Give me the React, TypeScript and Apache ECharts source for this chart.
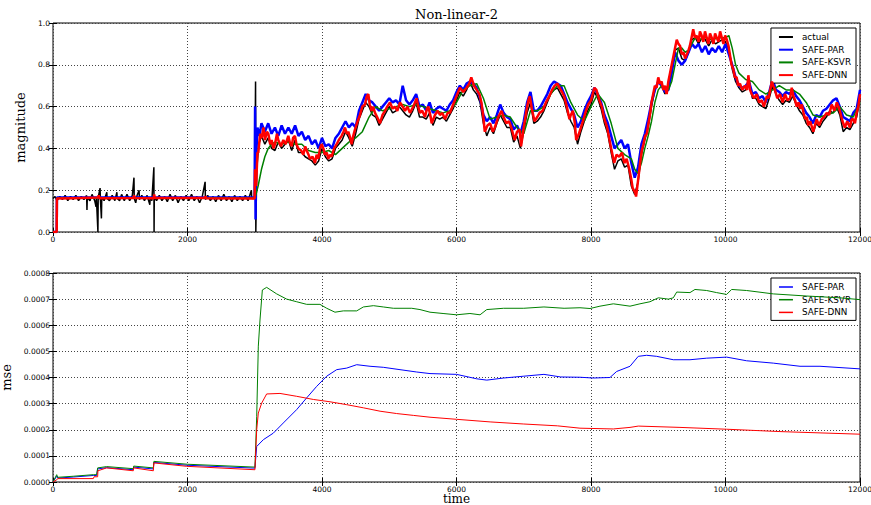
import React, { useEffect, useRef } from "react";
import * as echarts from "echarts";

// ---------- axes ----------
const X_MIN = 0;
const X_MAX = 12000;
const X_STEP = 2000;
const MAG_MIN = 0;
const MAG_MAX = 1.0;
const MAG_STEP = 0.2;
const MSE_MIN = 0;
const MSE_MAX = 0.0008;
const MSE_STEP = 0.0001;

const TITLE = "Non-linear-2";
const X_NAME = "time";
const TOP_NAMES = ["actual", "SAFE-PAR", "SAFE-KSVR", "SAFE-DNN"];
const BOTTOM_NAMES = ["SAFE-PAR", "SAFE-KSVR", "SAFE-DNN"];

// ---------- top panel: magnitude ----------
const actualMag: number[][] = [
  [0, 0.16], [30, 0.17], [60, 0.15], [100, 0.17], [140, 0.155], [180, 0.175], [220, 0.15], [260, 0.17],
  [300, 0.155], [340, 0.175], [380, 0.15], [420, 0.17], [460, 0.155], [500, 0.175], [505, 0.105], [510, 0.165],
  [550, 0.15], [580, 0.18], [620, 0.15], [640, 0.12], [645, 0.165], [668, 0.0], [672, 0.165], [700, 0.21],
  [705, 0.155], [720, 0.065], [725, 0.165], [760, 0.15], [800, 0.19], [805, 0.16], [840, 0.15], [880, 0.175],
  [920, 0.15], [950, 0.19], [955, 0.16], [990, 0.15], [1020, 0.18], [1060, 0.15], [1100, 0.18], [1140, 0.15],
  [1180, 0.175], [1204, 0.26], [1208, 0.16], [1230, 0.14], [1250, 0.175], [1280, 0.2], [1285, 0.155],
  [1320, 0.175], [1360, 0.15], [1400, 0.175], [1440, 0.13], [1445, 0.165], [1470, 0.15], [1500, 0.31],
  [1503, 0.0], [1506, 0.165], [1540, 0.15], [1580, 0.175], [1620, 0.15], [1660, 0.17], [1700, 0.145],
  [1740, 0.18], [1780, 0.15], [1820, 0.175], [1860, 0.14], [1900, 0.17], [1940, 0.15], [1980, 0.175],
  [2020, 0.15], [2060, 0.18], [2100, 0.15], [2140, 0.17], [2180, 0.14], [2220, 0.17], [2262, 0.24],
  [2266, 0.155], [2300, 0.175], [2340, 0.15], [2380, 0.17], [2420, 0.145], [2460, 0.175], [2500, 0.15],
  [2540, 0.18], [2580, 0.15], [2620, 0.17], [2660, 0.145], [2700, 0.175], [2740, 0.15], [2780, 0.17],
  [2820, 0.15], [2860, 0.175], [2900, 0.15], [2950, 0.2], [2955, 0.16], [2998, 0.16], [3012, 0.72],
  [3016, 0.0], [3030, 0.3], [3060, 0.42], [3100, 0.46], [3150, 0.42], [3200, 0.45], [3250, 0.4],
  [3300, 0.39], [3350, 0.43], [3400, 0.4], [3450, 0.42], [3500, 0.44], [3550, 0.39], [3600, 0.44],
  [3650, 0.38], [3700, 0.38], [3750, 0.36], [3800, 0.35], [3850, 0.34], [3900, 0.32], [3950, 0.34],
  [4000, 0.4], [4050, 0.36], [4100, 0.34], [4150, 0.35], [4200, 0.4], [4250, 0.42], [4300, 0.44],
  [4350, 0.48], [4400, 0.45], [4450, 0.41], [4500, 0.47], [4550, 0.54], [4600, 0.58], [4650, 0.62],
  [4700, 0.6], [4750, 0.56], [4800, 0.55], [4850, 0.51], [4900, 0.54], [4950, 0.57], [5000, 0.6],
  [5050, 0.57], [5100, 0.58], [5150, 0.6], [5200, 0.58], [5250, 0.56], [5300, 0.55], [5350, 0.58],
  [5400, 0.62], [5450, 0.55], [5500, 0.55], [5550, 0.54], [5600, 0.57], [5650, 0.51], [5700, 0.55],
  [5750, 0.54], [5800, 0.55], [5850, 0.53], [5900, 0.56], [5950, 0.59], [6000, 0.63], [6050, 0.67],
  [6100, 0.65], [6150, 0.68], [6200, 0.72], [6250, 0.68], [6300, 0.66], [6350, 0.62], [6400, 0.52],
  [6450, 0.46], [6500, 0.5], [6550, 0.47], [6600, 0.52], [6650, 0.56], [6700, 0.53], [6750, 0.5],
  [6800, 0.5], [6850, 0.43], [6900, 0.46], [6950, 0.4], [7000, 0.48], [7050, 0.57], [7100, 0.62],
  [7150, 0.52], [7200, 0.53], [7250, 0.55], [7300, 0.58], [7350, 0.62], [7400, 0.66], [7450, 0.68],
  [7500, 0.69], [7550, 0.66], [7600, 0.63], [7650, 0.57], [7700, 0.53], [7750, 0.5], [7800, 0.42],
  [7850, 0.48], [7900, 0.53], [7950, 0.58], [8000, 0.61], [8050, 0.67], [8100, 0.64], [8150, 0.59],
  [8200, 0.52], [8250, 0.47], [8300, 0.38], [8350, 0.3], [8400, 0.34], [8450, 0.35], [8500, 0.31],
  [8550, 0.32], [8600, 0.22], [8650, 0.18], [8700, 0.24], [8750, 0.37], [8800, 0.44], [8850, 0.5],
  [8900, 0.6], [8950, 0.68], [9000, 0.72], [9050, 0.7], [9100, 0.66], [9150, 0.7], [9200, 0.78],
  [9250, 0.87], [9300, 0.88], [9350, 0.83], [9400, 0.82], [9450, 0.86], [9500, 0.92], [9550, 0.93],
  [9600, 0.9], [9650, 0.93], [9700, 0.92], [9750, 0.89], [9800, 0.92], [9850, 0.9], [9900, 0.91],
  [9950, 0.92], [10000, 0.91], [10050, 0.87], [10100, 0.78], [10150, 0.72], [10200, 0.69], [10250, 0.67],
  [10300, 0.68], [10350, 0.72], [10400, 0.64], [10450, 0.64], [10500, 0.61], [10550, 0.6], [10600, 0.59],
  [10650, 0.64], [10700, 0.7], [10750, 0.66], [10800, 0.63], [10850, 0.61], [10900, 0.63], [10950, 0.62],
  [11000, 0.65], [11050, 0.61], [11100, 0.58], [11150, 0.56], [11200, 0.52], [11250, 0.5], [11300, 0.47],
  [11350, 0.52], [11400, 0.5], [11450, 0.53], [11500, 0.55], [11550, 0.58], [11600, 0.57], [11650, 0.6],
  [11700, 0.56], [11750, 0.48], [11800, 0.5], [11850, 0.49], [11900, 0.52], [11950, 0.55], [12000, 0.64],
];

const parMag: number[][] = [
  [0, 0], [55, 0], [58, 0.165], [2998, 0.165], [3005, 0.6], [3012, 0.06], [3020, 0.35], [3040, 0.5],
  [3070, 0.46], [3100, 0.52], [3150, 0.48], [3200, 0.52], [3250, 0.47], [3300, 0.5], [3350, 0.46],
  [3400, 0.51], [3450, 0.47], [3500, 0.5], [3550, 0.47], [3600, 0.51], [3650, 0.46], [3700, 0.48],
  [3750, 0.44], [3800, 0.46], [3850, 0.42], [3900, 0.44], [3950, 0.4], [4000, 0.45], [4050, 0.41],
  [4100, 0.42], [4150, 0.4], [4200, 0.45], [4250, 0.47], [4300, 0.5], [4350, 0.53], [4400, 0.5],
  [4450, 0.52], [4500, 0.5], [4550, 0.58], [4600, 0.62], [4650, 0.66], [4700, 0.63], [4750, 0.62],
  [4800, 0.6], [4850, 0.58], [4900, 0.6], [4950, 0.62], [5000, 0.64], [5050, 0.62], [5100, 0.63],
  [5150, 0.61], [5200, 0.7], [5250, 0.63], [5300, 0.61], [5350, 0.63], [5400, 0.66], [5450, 0.6],
  [5500, 0.61], [5550, 0.58], [5600, 0.62], [5650, 0.57], [5700, 0.59], [5750, 0.6], [5800, 0.59],
  [5850, 0.58], [5900, 0.61], [5950, 0.63], [6000, 0.67], [6050, 0.7], [6100, 0.68], [6150, 0.71],
  [6200, 0.72], [6250, 0.71], [6300, 0.69], [6350, 0.64], [6400, 0.56], [6450, 0.53], [6500, 0.55],
  [6550, 0.52], [6600, 0.56], [6650, 0.61], [6700, 0.57], [6750, 0.55], [6800, 0.54], [6850, 0.49],
  [6900, 0.51], [6950, 0.47], [7000, 0.53], [7050, 0.62], [7100, 0.67], [7150, 0.58], [7200, 0.58],
  [7250, 0.6], [7300, 0.63], [7350, 0.66], [7400, 0.7], [7450, 0.72], [7500, 0.71], [7550, 0.7],
  [7600, 0.66], [7650, 0.62], [7700, 0.59], [7750, 0.56], [7800, 0.5], [7850, 0.53], [7900, 0.58],
  [7950, 0.62], [8000, 0.65], [8050, 0.69], [8100, 0.66], [8150, 0.62], [8200, 0.56], [8250, 0.52],
  [8300, 0.46], [8350, 0.4], [8400, 0.42], [8450, 0.44], [8500, 0.4], [8550, 0.42], [8600, 0.33],
  [8650, 0.26], [8700, 0.31], [8750, 0.42], [8800, 0.47], [8850, 0.54], [8900, 0.62], [8950, 0.68],
  [9000, 0.72], [9050, 0.7], [9100, 0.67], [9150, 0.68], [9200, 0.76], [9250, 0.86], [9300, 0.82],
  [9350, 0.8], [9400, 0.82], [9450, 0.86], [9500, 0.9], [9550, 0.88], [9600, 0.9], [9650, 0.86],
  [9700, 0.89], [9750, 0.85], [9800, 0.88], [9850, 0.86], [9900, 0.89], [9950, 0.86], [10000, 0.9],
  [10050, 0.85], [10100, 0.8], [10150, 0.74], [10200, 0.7], [10250, 0.69], [10300, 0.7], [10350, 0.72],
  [10400, 0.66], [10450, 0.67], [10500, 0.64], [10550, 0.65], [10600, 0.62], [10650, 0.67], [10700, 0.73],
  [10750, 0.68], [10800, 0.67], [10850, 0.65], [10900, 0.67], [10950, 0.66], [11000, 0.68], [11050, 0.65],
  [11100, 0.63], [11150, 0.6], [11200, 0.57], [11250, 0.55], [11300, 0.52], [11350, 0.56], [11400, 0.55],
  [11450, 0.58], [11500, 0.59], [11550, 0.61], [11600, 0.63], [11650, 0.64], [11700, 0.6], [11750, 0.55],
  [11800, 0.54], [11850, 0.53], [11900, 0.57], [11950, 0.59], [12000, 0.68],
];

const ksvrMag: number[][] = [
  [0, 0], [55, 0], [58, 0.163], [2998, 0.163], [3010, 0.17], [3050, 0.22], [3100, 0.3], [3150, 0.36],
  [3200, 0.4], [3250, 0.42], [3300, 0.43], [3400, 0.42], [3500, 0.43], [3600, 0.42], [3700, 0.42],
  [3800, 0.39], [3900, 0.38], [4000, 0.38], [4100, 0.39], [4200, 0.37], [4300, 0.4], [4400, 0.43],
  [4500, 0.45], [4600, 0.48], [4700, 0.55], [4800, 0.6], [4900, 0.58], [5000, 0.59], [5100, 0.6],
  [5200, 0.61], [5300, 0.6], [5400, 0.61], [5500, 0.6], [5600, 0.59], [5700, 0.58], [5800, 0.57],
  [5900, 0.58], [6000, 0.62], [6100, 0.68], [6200, 0.7], [6300, 0.71], [6400, 0.64], [6500, 0.54],
  [6600, 0.55], [6700, 0.56], [6800, 0.55], [6900, 0.5], [7000, 0.47], [7100, 0.58], [7200, 0.58],
  [7300, 0.6], [7400, 0.66], [7500, 0.7], [7600, 0.7], [7700, 0.62], [7800, 0.56], [7900, 0.53],
  [8000, 0.6], [8100, 0.66], [8200, 0.62], [8300, 0.52], [8400, 0.4], [8500, 0.37], [8600, 0.35],
  [8650, 0.3], [8700, 0.28], [8750, 0.33], [8800, 0.4], [8850, 0.46], [8900, 0.53], [8950, 0.62],
  [9000, 0.68], [9050, 0.7], [9100, 0.69], [9150, 0.68], [9200, 0.72], [9250, 0.8], [9300, 0.88],
  [9350, 0.88], [9400, 0.86], [9450, 0.87], [9500, 0.9], [9550, 0.93], [9600, 0.92], [9700, 0.93],
  [9800, 0.92], [9900, 0.93], [10000, 0.93], [10050, 0.94], [10100, 0.88], [10150, 0.8], [10200, 0.76],
  [10300, 0.73], [10400, 0.72], [10500, 0.68], [10600, 0.66], [10700, 0.68], [10800, 0.7], [10900, 0.68],
  [11000, 0.68], [11100, 0.66], [11200, 0.62], [11300, 0.56], [11400, 0.55], [11500, 0.56], [11600, 0.57],
  [11700, 0.6], [11800, 0.56], [11900, 0.55], [12000, 0.62],
];

const dnnMag: number[][] = [
  [0, 0], [55, 0], [58, 0.16], [300, 0.162], [668, 0.165], [680, 0.175], [690, 0.162], [1200, 0.163],
  [1205, 0.175], [1215, 0.163], [1500, 0.162], [1505, 0.18], [1515, 0.163], [2262, 0.163], [2266, 0.172],
  [2275, 0.162], [2998, 0.16], [3005, 0.3], [3020, 0.22], [3040, 0.38], [3053, 0.38], [3080, 0.47],
  [3103, 0.45], [3130, 0.5], [3152, 0.44], [3180, 0.48], [3202, 0.47], [3230, 0.42], [3251, 0.44],
  [3280, 0.4], [3301, 0.42], [3330, 0.47], [3350, 0.44], [3390, 0.41], [3425, 0.44], [3460, 0.42],
  [3499, 0.46], [3520, 0.43], [3549, 0.41], [3570, 0.45], [3598, 0.46], [3620, 0.42], [3648, 0.4],
  [3690, 0.39], [3722, 0.37], [3750, 0.41], [3772, 0.39], [3800, 0.37], [3821, 0.35], [3860, 0.36],
  [3896, 0.33], [3920, 0.37], [3945, 0.35], [3970, 0.4], [3995, 0.42], [4020, 0.4], [4044, 0.37],
  [4070, 0.38], [4094, 0.35], [4120, 0.37], [4143, 0.36], [4180, 0.4], [4218, 0.42], [4250, 0.44],
  [4292, 0.46], [4320, 0.48], [4342, 0.5], [4370, 0.47], [4391, 0.48], [4420, 0.45], [4441, 0.42],
  [4465, 0.46], [4490, 0.49], [4530, 0.53], [4565, 0.56], [4600, 0.6], [4639, 0.61], [4665, 0.65],
  [4689, 0.66], [4710, 0.61], [4738, 0.58], [4760, 0.6], [4788, 0.57], [4820, 0.55], [4862, 0.52],
  [4900, 0.56], [4937, 0.58], [4970, 0.6], [5011, 0.62], [5050, 0.59], [5085, 0.6], [5120, 0.58],
  [5160, 0.62], [5200, 0.6], [5234, 0.58], [5270, 0.6], [5308, 0.57], [5358, 0.6], [5408, 0.64],
  [5430, 0.6], [5457, 0.57], [5490, 0.58], [5532, 0.55], [5560, 0.59], [5581, 0.6], [5610, 0.56],
  [5631, 0.52], [5680, 0.56], [5720, 0.58], [5755, 0.56], [5790, 0.57], [5829, 0.54], [5870, 0.57],
  [5903, 0.57], [5950, 0.61], [6000, 0.65], [6050, 0.69], [6100, 0.67], [6150, 0.69], [6190, 0.71],
  [6220, 0.74], [6260, 0.7], [6300, 0.68], [6340, 0.66], [6370, 0.62], [6400, 0.55], [6420, 0.48],
  [6460, 0.51], [6500, 0.52], [6540, 0.48], [6570, 0.5], [6620, 0.55], [6670, 0.58], [6700, 0.55],
  [6740, 0.52], [6780, 0.53], [6815, 0.5], [6840, 0.47], [6865, 0.44], [6900, 0.48], [6940, 0.49],
  [6960, 0.41], [7000, 0.5], [7040, 0.58], [7070, 0.63], [7090, 0.65], [7120, 0.59], [7160, 0.53],
  [7200, 0.55], [7235, 0.57], [7280, 0.58], [7330, 0.62], [7380, 0.65], [7420, 0.68], [7460, 0.7],
  [7500, 0.71], [7530, 0.69], [7570, 0.67], [7600, 0.65], [7640, 0.6], [7680, 0.54], [7700, 0.56],
  [7730, 0.58], [7760, 0.52], [7780, 0.44], [7820, 0.47], [7850, 0.5], [7890, 0.54], [7925, 0.58],
  [7960, 0.61], [8000, 0.63], [8050, 0.69], [8080, 0.68], [8125, 0.63], [8160, 0.6], [8200, 0.54],
  [8240, 0.5], [8270, 0.45], [8300, 0.4], [8345, 0.33], [8380, 0.37], [8420, 0.36], [8460, 0.38],
  [8495, 0.33], [8530, 0.35], [8570, 0.3], [8600, 0.25], [8620, 0.21], [8655, 0.19], [8670, 0.17],
  [8705, 0.26], [8730, 0.33], [8755, 0.39], [8780, 0.42], [8805, 0.46], [8830, 0.47], [8855, 0.52],
  [8880, 0.57], [8900, 0.62], [8925, 0.66], [8950, 0.7], [8975, 0.69], [9000, 0.74], [9025, 0.71],
  [9050, 0.72], [9075, 0.68], [9100, 0.7], [9125, 0.66], [9150, 0.72], [9175, 0.76], [9200, 0.8],
  [9225, 0.84], [9250, 0.88], [9275, 0.92], [9300, 0.9], [9325, 0.89], [9350, 0.85], [9375, 0.86],
  [9400, 0.83], [9425, 0.85], [9450, 0.87], [9470, 0.89], [9495, 0.93], [9520, 0.97], [9545, 0.93],
  [9570, 0.94], [9600, 0.91], [9620, 0.96], [9645, 0.94], [9670, 0.91], [9695, 0.96], [9720, 0.93],
  [9745, 0.9], [9770, 0.95], [9795, 0.93], [9820, 0.9], [9845, 0.95], [9870, 0.93], [9895, 0.91],
  [9920, 0.96], [9945, 0.93], [9970, 0.9], [9995, 0.94], [10020, 0.92], [10045, 0.89], [10070, 0.84],
  [10090, 0.8], [10115, 0.78], [10140, 0.74], [10165, 0.74], [10190, 0.7], [10215, 0.71], [10250, 0.68],
  [10290, 0.7], [10320, 0.68], [10340, 0.75], [10365, 0.68], [10390, 0.66], [10425, 0.64], [10465, 0.66],
  [10500, 0.62], [10540, 0.63], [10570, 0.6], [10590, 0.62], [10615, 0.65], [10640, 0.64], [10665, 0.68],
  [10690, 0.72], [10710, 0.7], [10735, 0.68], [10770, 0.64], [10810, 0.66], [10850, 0.62], [10885, 0.66],
  [10920, 0.63], [10960, 0.64], [10985, 0.69], [11010, 0.65], [11035, 0.63], [11060, 0.6], [11085, 0.62],
  [11110, 0.59], [11135, 0.61], [11160, 0.57], [11185, 0.54], [11210, 0.55], [11230, 0.51], [11260, 0.53],
  [11305, 0.48], [11330, 0.51], [11355, 0.54], [11390, 0.51], [11430, 0.54], [11465, 0.55], [11505, 0.57],
  [11540, 0.56], [11580, 0.61], [11620, 0.58], [11655, 0.62], [11680, 0.6], [11700, 0.58], [11740, 0.53],
  [11775, 0.5], [11810, 0.53], [11850, 0.5], [11875, 0.54], [11900, 0.54], [11925, 0.52], [11950, 0.57],
  [11975, 0.6], [12000, 0.66],
];

// ---------- bottom panel: mse ----------
const parMse: number[][] = [
  [0, 0], [55, 0.000022], [70, 0.000015], [300, 0.000019], [600, 0.000025], [650, 0.000025], [664, 0.00005],
  [798, 0.000055], [1194, 0.000047], [1200, 0.000057], [1492, 0.00005], [1500, 0.000075], [2000, 0.000064],
  [3003, 0.000053], [3029, 0.000136], [3128, 0.000162], [3276, 0.000187], [3425, 0.000226], [3623, 0.000277],
  [3772, 0.000322], [3921, 0.000366], [4070, 0.000405], [4218, 0.00043], [4367, 0.000436], [4516, 0.000449],
  [4714, 0.000443], [4912, 0.000439], [5160, 0.00043], [5408, 0.000421], [5606, 0.000415], [6000, 0.000412],
  [6300, 0.000395], [6450, 0.00039], [6700, 0.000398], [7000, 0.000405], [7300, 0.000412], [7550, 0.000402],
  [7836, 0.000401], [8034, 0.000398], [8282, 0.0004], [8381, 0.000423], [8580, 0.000443], [8703, 0.000481],
  [8827, 0.000485], [8976, 0.000481], [9224, 0.000468], [9472, 0.000468], [9720, 0.000474], [10017, 0.000478],
  [10314, 0.000464], [10711, 0.000455], [11108, 0.000443], [11405, 0.000443], [12000, 0.000433],
];

const ksvrMse: number[][] = [
  [0, 0], [55, 0.000028], [70, 0.000018], [300, 0.000022], [600, 0.000028], [650, 0.000028], [664, 0.000054],
  [798, 0.000059], [1194, 0.000051], [1200, 0.000061], [1492, 0.000054], [1500, 0.000079], [2000, 0.000068],
  [3003, 0.000057], [3029, 0.00025], [3053, 0.00052], [3078, 0.00062], [3113, 0.000735], [3177, 0.000745],
  [3326, 0.00072], [3475, 0.0007], [3623, 0.00069], [3772, 0.00068], [3970, 0.00068], [4070, 0.000665],
  [4193, 0.00065], [4317, 0.000655], [4516, 0.000655], [4615, 0.00067], [4764, 0.000675], [4912, 0.00067],
  [5061, 0.000665], [5334, 0.000665], [5457, 0.00066], [5606, 0.00065], [5800, 0.000645], [6000, 0.00064],
  [6200, 0.000645], [6350, 0.00064], [6450, 0.00066], [6700, 0.000665], [7000, 0.000665], [7300, 0.00067],
  [7600, 0.000665], [7836, 0.000667], [7985, 0.000664], [8133, 0.000673], [8332, 0.000682], [8580, 0.000673],
  [8728, 0.000682], [8877, 0.00069], [9001, 0.000705], [9150, 0.0007], [9224, 0.000705], [9274, 0.000727],
  [9472, 0.000725], [9546, 0.000737], [9720, 0.000733], [9868, 0.000725], [10017, 0.000718], [10091, 0.000737],
  [10314, 0.000733], [10711, 0.00072], [11200, 0.000712], [11700, 0.000705], [12000, 0.000698],
];

const dnnMse: number[][] = [
  [0, 0], [55, 0.000008], [70, 0.000013], [600, 0.000013], [610, 0.00002], [664, 0.00002], [668, 0.000043],
  [798, 0.000054], [1194, 0.000043], [1200, 0.000054], [1492, 0.000043], [1500, 0.000073], [1988, 0.00006],
  [3003, 0.000047], [3029, 0.0002], [3053, 0.000264], [3103, 0.000302], [3177, 0.000337], [3375, 0.000339],
  [3623, 0.000328], [3871, 0.000316], [4119, 0.000307], [4367, 0.000296], [4615, 0.000284], [4863, 0.000271],
  [5110, 0.000262], [5358, 0.000255], [5606, 0.000248], [6000, 0.00024], [6500, 0.00023], [7000, 0.000222],
  [7500, 0.000215], [7836, 0.000206], [8332, 0.000203], [8580, 0.000209], [8703, 0.000214], [9323, 0.000209],
  [10017, 0.000202], [10810, 0.000193], [12000, 0.000183],
];

const COLORS: Record<string, string> = {
  actual: "#000000",
  "SAFE-PAR": "#0000ff",
  "SAFE-KSVR": "#008000",
  "SAFE-DNN": "#ff0000",
};

const SANS = "DejaVu Sans";
const SERIF = "DejaVu Serif";

function buildOption() {
  const tickLabel = { fontFamily: SANS, fontSize: 7.5, lineHeight: 8, color: "#000" };
  const splitLine = { show: true, lineStyle: { color: "#444", type: [1, 2] as number[], width: 1 } };
  const tickIn = { show: true, inside: true, length: 4, lineStyle: { color: "#000" } };

  const gridBase = {
    left: 53,
    width: 807,
    height: 209,
    show: true,
    borderColor: "#000",
    borderWidth: 1,
    backgroundColor: "transparent",
    containLabel: false,
    outerBoundsMode: "none",
  };
  const grids = [
    { ...gridBase, top: 23 },
    { ...gridBase, top: 273 },
  ];

  const xMain = (gridIndex: number) => ({
    type: "value",
    gridIndex,
    min: X_MIN,
    max: X_MAX,
    interval: X_STEP,
    position: "bottom",
    axisLine: { show: false },
    axisTick: tickIn,
    axisLabel: { ...tickLabel, margin: 3, formatter: (v: number) => String(Math.round(v)) },
    splitLine,
  });
  const xTop = (gridIndex: number) => ({
    type: "value",
    gridIndex,
    min: X_MIN,
    max: X_MAX,
    interval: X_STEP,
    position: "top",
    axisLine: { show: false },
    axisTick: tickIn,
    axisLabel: { show: false },
    splitLine: { show: false },
  });
  const yMain = (gridIndex: number, min: number, max: number, step: number, digits: number, name: string, gap: number) => ({
    type: "value",
    gridIndex,
    min,
    max,
    interval: step,
    position: "left",
    axisLine: { show: false },
    axisTick: tickIn,
    axisLabel: { ...tickLabel, margin: 3, formatter: (v: number) => v.toFixed(digits) },
    splitLine,
    name,
    nameLocation: "middle",
    nameGap: gap,
    nameTextStyle: { fontFamily: SERIF, fontSize: 13, color: "#000" },
  });
  const yRight = (gridIndex: number, min: number, max: number, step: number) => ({
    type: "value",
    gridIndex,
    min,
    max,
    interval: step,
    position: "right",
    axisLine: { show: false },
    axisTick: tickIn,
    axisLabel: { show: false },
    splitLine: { show: false },
  });

  const line = (name: string, data: number[][], axis: number, width: number, z: number) => ({
    type: "line",
    name,
    data,
    xAxisIndex: axis,
    yAxisIndex: axis,
    showSymbol: false,
    symbol: "none",
    lineStyle: { color: COLORS[name], width },
    itemStyle: { color: COLORS[name] },
    z,
  });

  const legendBase = {
    orient: "vertical",
    right: 15,
    backgroundColor: "#fff",
    borderColor: "#000",
    borderWidth: 1,
    borderRadius: 0,
    padding: [4, 5, 3, 8],
    itemWidth: 14,
    itemGap: 2.7,
    icon: "rect",
    textStyle: { fontFamily: SANS, fontSize: 8.8, color: "#000", lineHeight: 10, padding: [0, 0, 0, 4] },
    selectedMode: false,
  };

  return {
    animation: false,
    backgroundColor: "#fff",
    graphic: [
      {
        type: "text",
        x: 456.5,
        y: 14,
        style: {
          text: TITLE,
          fill: "#000",
          font: `13px "${SERIF}"`,
          textAlign: "center",
          textVerticalAlign: "middle",
        },
      },
      {
        type: "text",
        x: 456.5,
        y: 505,
        style: {
          text: X_NAME,
          fill: "#000",
          font: `12px "${SERIF}"`,
          textAlign: "center",
          textVerticalAlign: "bottom",
        },
      },
    ],
    grid: grids,
    xAxis: [xMain(0), xTop(0), xMain(1), xTop(1)],
    yAxis: [
      yMain(0, MAG_MIN, MAG_MAX, MAG_STEP, 1, "magnitude", 19),
      yRight(0, MAG_MIN, MAG_MAX, MAG_STEP),
      yMain(1, MSE_MIN, MSE_MAX, MSE_STEP, 4, "mse", 33),
      yRight(1, MSE_MIN, MSE_MAX, MSE_STEP),
    ],
    legend: [
      { ...legendBase, top: 28, itemHeight: 2, data: TOP_NAMES },
      { ...legendBase, top: 278, itemHeight: 1.5, data: BOTTOM_NAMES },
    ],
    series: [
      line("actual", actualMag, 0, 1.5, 2),
      line("SAFE-PAR", parMag, 0, 2.5, 3),
      line("SAFE-KSVR", ksvrMag, 0, 1.5, 4),
      line("SAFE-DNN", dnnMag, 0, 2.5, 5),
      line("SAFE-PAR", parMse, 2, 1, 3),
      line("SAFE-KSVR", ksvrMse, 2, 1, 4),
      line("SAFE-DNN", dnnMse, 2, 1, 5),
    ],
  };
}

export default function App() {
  const ref = useRef<HTMLDivElement>(null);
  useEffect(() => {
    document.body.style.margin = "0";
    if (!ref.current) return;
    const chart = echarts.init(ref.current, null, { renderer: "svg" });
    chart.setOption(buildOption() as any);
    return () => chart.dispose();
  }, []);
  return <div ref={ref} style={{ width: 871, height: 505 }} />;
}
